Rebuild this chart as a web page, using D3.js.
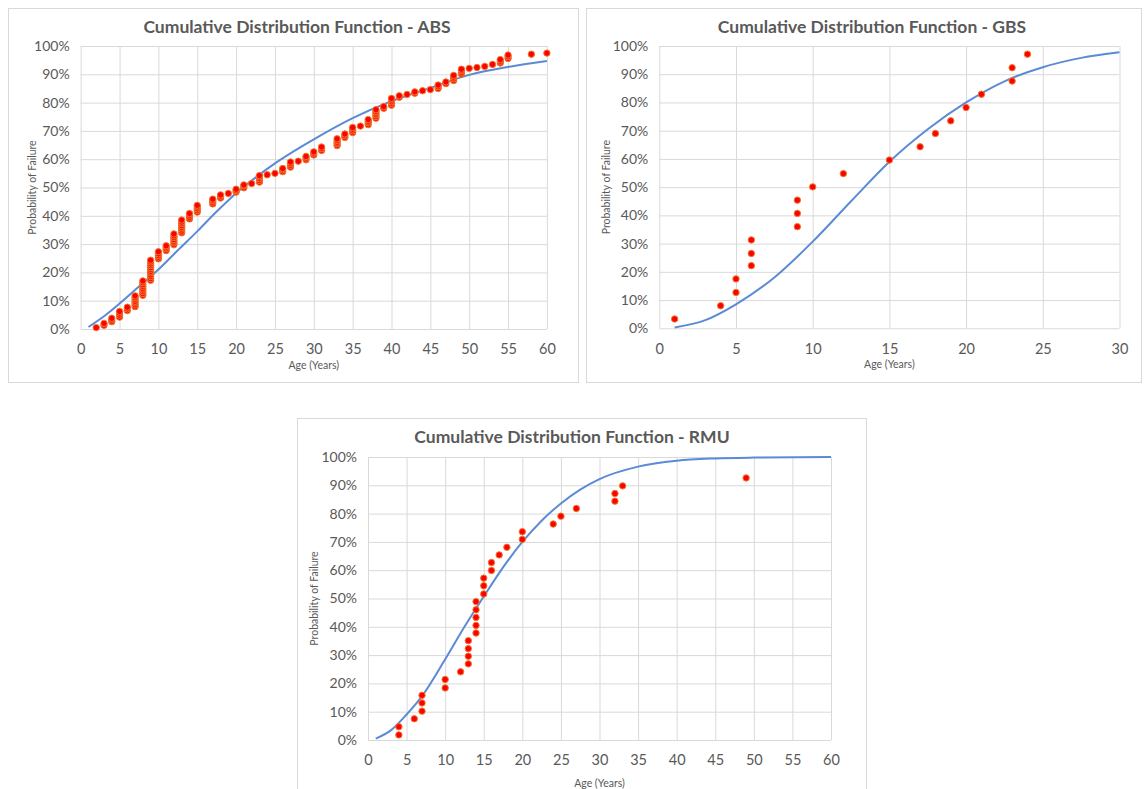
<!DOCTYPE html>
<html>
<head>
<meta charset="utf-8">
<script src="https://cdn.jsdelivr.net/npm/d3@7"></script>
<style>
  body { margin: 0; background: #fff; }
  svg { display: block; }
  text { font-family: Lato, "Open Sans", sans-serif; fill: #595959; }
</style>
</head>
<body>
<div id="chart"></div>
<script>
// Chart data

var yTicks = [0, 10, 20, 30, 40, 50, 60, 70, 80, 90, 100];
var xTicks60 = [0, 5, 10, 15, 20, 25, 30, 35, 40, 45, 50, 55, 60];
var xTicks30 = [0, 5, 10, 15, 20, 25, 30];

// ABS - observed points [age, probability %]
var absPoints = [
  [2, 0.5],
  [3, 1.3], [3, 2.0],
  [4, 2.6], [4, 3.2], [4, 3.8],
  [5, 4.2], [5, 4.9], [5, 5.6], [5, 6.2],
  [6, 6.5], [6, 7.1], [6, 7.7],
  [7, 7.9], [7, 8.5], [7, 9.2], [7, 9.8], [7, 10.5], [7, 11.1], [7, 11.7],
  [8, 11.9], [8, 12.5], [8, 13.2], [8, 13.8], [8, 14.4], [8, 15.1], [8, 15.7], [8, 16.4], [8, 17.0],
  [9, 17.2], [9, 17.8], [9, 18.5], [9, 19.1], [9, 19.8], [9, 20.4], [9, 21.1], [9, 21.7], [9, 22.4], [9, 23.0], [9, 23.7], [9, 24.3],
  [10, 24.8], [10, 25.4], [10, 26.0], [10, 26.6], [10, 27.3],
  [11, 27.7], [11, 28.3], [11, 28.9], [11, 29.4],
  [12, 29.8], [12, 30.4], [12, 31.0], [12, 31.6], [12, 32.3], [12, 32.9], [12, 33.6],
  [13, 34.0], [13, 34.6], [13, 35.3], [13, 35.9], [13, 36.5], [13, 37.2], [13, 37.8], [13, 38.5],
  [14, 38.9], [14, 39.5], [14, 40.2], [14, 40.8],
  [15, 41.3], [15, 41.9], [15, 42.5], [15, 43.1], [15, 43.7],
  [17, 44.2], [17, 44.8], [17, 45.4], [17, 45.9],
  [18, 46.3], [18, 46.9], [18, 47.4],
  [19, 47.9],
  [20, 48.4], [20, 48.9], [20, 49.4],
  [21, 49.9], [21, 50.5], [21, 50.9],
  [22, 51.4],
  [23, 51.9], [23, 52.5], [23, 53.1], [23, 53.7], [23, 54.2],
  [24, 54.5],
  [25, 55.0],
  [26, 55.6], [26, 56.2], [26, 56.7],
  [27, 57.2], [27, 57.8], [27, 58.4], [27, 59.0],
  [28, 59.3],
  [29, 59.8], [29, 60.4], [29, 61.0],
  [30, 61.5], [30, 62.1], [30, 62.6],
  [31, 63.1], [31, 63.7], [31, 64.3],
  [33, 64.8], [33, 65.4], [33, 66.0], [33, 66.6], [33, 67.2],
  [34, 67.7], [34, 68.3], [34, 68.9],
  [35, 69.4], [35, 70.0], [35, 70.6], [35, 71.2],
  [36, 71.7],
  [37, 72.2], [37, 72.8], [37, 73.4], [37, 74.0],
  [38, 74.5], [38, 75.1], [38, 75.7], [38, 76.3], [38, 76.9], [38, 77.5],
  [39, 78.0], [39, 78.6],
  [40, 79.1], [40, 79.7], [40, 80.3], [40, 80.9], [40, 81.5],
  [41, 81.9], [41, 82.4],
  [42, 82.9],
  [43, 83.3], [43, 83.8],
  [44, 84.2],
  [45, 84.6],
  [46, 85.0], [46, 85.6], [46, 86.2],
  [47, 86.7], [47, 87.3],
  [48, 87.8], [48, 88.4], [48, 89.0], [48, 89.6],
  [49, 90.1], [49, 90.7], [49, 91.3], [49, 91.8],
  [50, 92.1],
  [51, 92.4],
  [52, 92.8],
  [53, 93.5],
  [54, 94.0], [54, 94.6], [54, 95.2],
  [55, 95.6], [55, 96.2], [55, 96.8],
  [58, 97.1],
  [60, 97.5]
];
// ABS - fitted curve
var absCurveAge  = [1, 3, 5, 7.5, 10, 12.5, 15, 17.5, 20, 22.5, 25, 30, 35, 40, 45, 50, 55, 60];
var absCurveProb = [0.7, 4.5, 9, 15, 21, 27.8, 34.5, 41.5, 48, 53.5, 58.5, 67, 74.5, 80.5, 85.2, 89.8, 92.6, 94.7];

// GBS - observed points
var gbsAge  = [1, 4, 5, 5, 6, 6, 6, 9, 9, 9, 10, 12, 15, 17, 18, 19, 20, 21, 23, 23, 24];
var gbsProb = [3.3, 8.0, 12.7, 17.5, 22.2, 26.5, 31.3, 36.0, 40.7, 45.4, 50.1, 54.8, 59.6, 64.3, 69.0, 73.5, 78.2, 82.9, 87.6, 92.3, 97.1];
// GBS - fitted curve
var gbsCurveAge  = [1, 3, 5, 7.5, 10, 12.5, 15, 17.5, 20, 22.5, 25, 27.5, 30];
var gbsCurveProb = [0.3, 2.9, 8.5, 18, 30.7, 45, 59, 70.5, 80, 87.5, 92.5, 95.8, 97.8];

// RMU - observed points
var rmuAge  = [4, 4, 6, 7, 7, 7, 10, 10, 12, 13, 13, 13, 13, 14, 14, 14, 14, 14, 15, 15, 15, 16, 16, 17, 18, 20, 20, 24, 25, 27, 32, 32, 33, 49];
var rmuProb = [1.8, 4.7, 7.5, 10.2, 13.1, 15.8, 18.4, 21.4, 24.1, 26.9, 29.6, 32.3, 35.1, 37.8, 40.5, 43.3, 46.0, 48.9, 51.6, 54.5, 57.2, 59.9, 62.7, 65.4, 68.1, 70.9, 73.6, 76.3, 79.1, 81.8, 84.4, 87.1, 89.8, 92.6];
// RMU - fitted curve
var rmuCurveAge  = [1, 3, 5, 7, 10, 12.5, 15, 17.5, 20, 22.5, 25, 27.5, 30, 35, 40, 45, 50, 60];
var rmuCurveProb = [0.5, 3.5, 9, 15.5, 28.5, 40, 50.7, 61, 70, 77.5, 83.6, 88.5, 92.2, 96.6, 98.7, 99.5, 99.8, 100];

// Layout

var width = 1145, height = 789;
var gridColor = '#d9d9d9';
var lineColor = '#5b8ad6';
var dotFill = '#ff0000';
var dotStroke = '#f07a30';

var svg = d3.select('#chart')
    .append('svg')
    .attr('width', width)
    .attr('height', height);

function drawPanel(cfg) {
    var g = svg.append('g');

    // outer frame
    g.append('rect')
        .attr('x', cfg.box[0] + 0.5)
        .attr('y', cfg.box[1] + 0.5)
        .attr('width', cfg.box[2])
        .attr('height', cfg.box[3])
        .attr('fill', '#fff')
        .attr('stroke', gridColor)
        .attr('stroke-width', 1);

    var x = d3.scaleLinear().domain([0, cfg.xMax]).range([cfg.plot.l, cfg.plot.r]);
    var y = d3.scaleLinear().domain([0, 100]).range([cfg.plot.b, cfg.plot.t]);

    // grid
    g.append('g')
        .attr('transform', 'translate(0,' + cfg.plot.b + ')')
        .call(d3.axisBottom(x).tickValues(cfg.xTicks).tickSize(cfg.plot.t - cfg.plot.b).tickFormat(''))
        .call(function(a) { a.select('.domain').remove(); })
        .selectAll('line').attr('stroke', gridColor);

    g.append('g')
        .attr('transform', 'translate(' + cfg.plot.l + ',0)')
        .call(d3.axisLeft(y).tickValues(yTicks).tickSize(cfg.plot.l - cfg.plot.r).tickFormat(''))
        .call(function(a) { a.select('.domain').remove(); })
        .selectAll('line').attr('stroke', gridColor);

    // tick labels
    var xl = g.append('g')
        .attr('transform', 'translate(0,' + cfg.plot.b + ')')
        .call(d3.axisBottom(x).tickValues(cfg.xTicks).tickSize(0).tickPadding(15));
    xl.select('.domain').remove();
    xl.selectAll('text')
        .style('font-family', 'Lato, sans-serif')
        .style('font-size', '14.5px')
        .attr('fill', '#595959');

    var yl = g.append('g')
        .attr('transform', 'translate(' + cfg.plot.l + ',0)')
        .call(d3.axisLeft(y).tickValues(yTicks).tickSize(0).tickPadding(11)
            .tickFormat(function(d) { return d + '%'; }));
    yl.select('.domain').remove();
    yl.selectAll('text')
        .style('font-family', 'Lato, sans-serif')
        .style('font-size', '14px')
        .attr('fill', '#595959');

    // titles
    g.append('text')
        .attr('x', cfg.titleX)
        .attr('y', cfg.box[1] + 25)
        .attr('text-anchor', 'middle')
        .style('font-size', '17.5px')
        .style('font-weight', 'bold')
        .text(cfg.title);

    g.append('text')
        .attr('x', (cfg.plot.l + cfg.plot.r) / 2)
        .attr('y', cfg.plot.b + cfg.ageTitleGap)
        .attr('text-anchor', 'middle')
        .style('font-size', '10.5px')
        .text('Age (Years)');

    g.append('text')
        .attr('transform', 'translate(' + cfg.yTitleX + ',' + ((cfg.plot.t + cfg.plot.b) / 2) + ') rotate(-90)')
        .attr('text-anchor', 'middle')
        .style('font-size', '10.5px')
        .text('Probability of Failure');

    // fitted curve
    var line = d3.line()
        .x(function(d) { return x(d[0]); })
        .y(function(d) { return y(d[1]); })
        .curve(d3.curveMonotoneX);

    g.append('path')
        .datum(cfg.curve)
        .attr('d', line)
        .attr('fill', 'none')
        .attr('stroke', lineColor)
        .attr('stroke-width', 2);

    // observed points
    g.append('g')
        .selectAll('circle')
        .data(cfg.points)
        .enter()
        .append('circle')
        .attr('cx', function(d) { return x(d[0]); })
        .attr('cy', function(d) { return y(d[1]); })
        .attr('r', 3.2)
        .attr('fill', dotFill)
        .attr('stroke', dotStroke)
        .attr('stroke-width', 1);
}

function zip(a, b) {
    return a.map(function(v, i) { return [v, b[i]]; });
}

drawPanel({
    title: 'Cumulative Distribution Function - ABS',
    box: [8, 8, 570, 374],
    plot: { l: 80.7, r: 546.9, t: 46, b: 329 },
    xMax: 60, xTicks: xTicks60,
    titleX: 297, yTitleX: 36, ageTitleGap: 40,
    points: absPoints,
    curve: zip(absCurveAge, absCurveProb)
});

drawPanel({
    title: 'Cumulative Distribution Function - GBS',
    box: [586, 8, 555, 374],
    plot: { l: 659.3, r: 1119.5, t: 46, b: 328.3 },
    xMax: 30, xTicks: xTicks30,
    titleX: 872, yTitleX: 610, ageTitleGap: 40,
    points: zip(gbsAge, gbsProb),
    curve: zip(gbsCurveAge, gbsCurveProb)
});

drawPanel({
    title: 'Cumulative Distribution Function - RMU',
    box: [297, 418, 569, 380],
    plot: { l: 368, r: 831, t: 457, b: 740 },
    xMax: 60, xTicks: xTicks60,
    titleX: 572, yTitleX: 318, ageTitleGap: 47,
    points: zip(rmuAge, rmuProb),
    curve: zip(rmuCurveAge, rmuCurveProb)
});
</script>
</body>
</html>
